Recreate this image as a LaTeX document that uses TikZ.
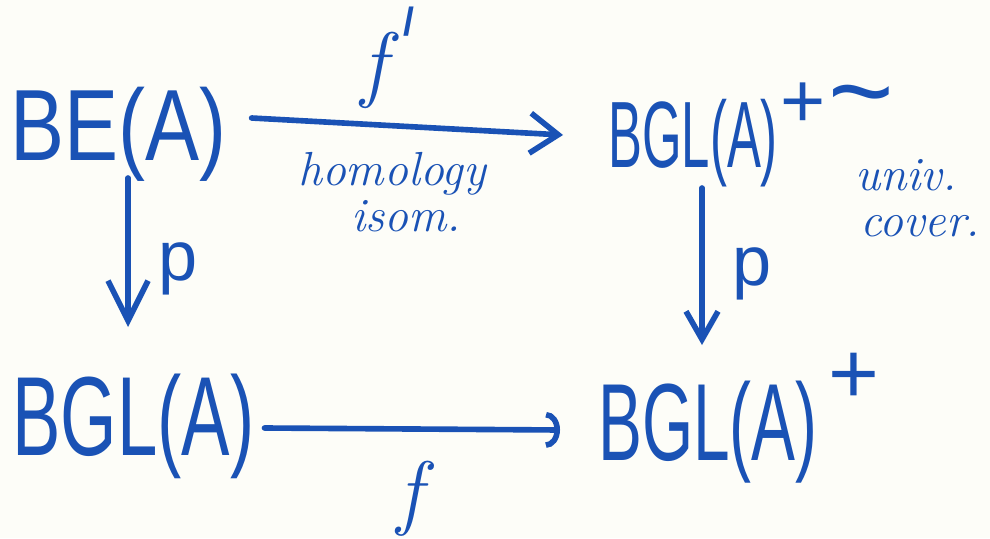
\documentclass[tikz,border=0pt]{standalone}
\usepackage{fontspec}
\newfontfamily\handfont{Liberation Sans}
\usepackage{tikz}
\usetikzlibrary{arrows.meta,calc}
\definecolor{ink}{HTML}{1A52B5}
\definecolor{paper}{HTML}{FDFDF8}
% hand-sized object text: size, horizontal squeeze, text
\newcommand{\hw}[3]{\fontsize{#1}{#1}\selectfont\scalebox{#2}[1]{#3}}
\newcommand{\hplus}[2]{\raisebox{#2}{\fontsize{#1}{#1}\selectfont +}}

\begin{document}
\begin{tikzpicture}[x=0.025cm, y=-0.025cm,
  line cap=round, line join=round,
  obj/.style={font=\handfont, text=ink, inner sep=0pt, anchor=base west},
  mlbl/.style={text=ink, inner sep=0pt, anchor=base},
  note/.style={font=\itshape\fontsize{34}{33}\selectfont, text=ink,
               align=center, inner sep=0pt},
  plbl/.style={font=\handfont\fontsize{50}{50}\selectfont, text=ink,
               inner sep=0pt, anchor=base west},
  cd/.style={draw=ink, line width=4pt}]

\fill[paper] (0,0) rectangle (990,538);
\useasboundingbox (0,0) rectangle (990,538);

% ================================================================ objects
\node[obj] (bea) at (10,160) {\hw{72}{0.80}{BE(A)}};
\node[obj] (bglpt) at (608,167) {\hw{67}{0.54}{BGL(A)}\hspace{2pt}%
  \hplus{55}{28pt}\hspace{2pt}%
  \raisebox{27pt}{\fontsize{80}{80}\selectfont\textasciitilde}};
\node[obj] (bgl) at (12,455) {\hw{80}{0.645}{BGL(A)}};
\node[obj] (bglp) at (598,460) {\hw{78}{0.60}{BGL(A)}\hspace{8pt}%
  \hplus{62}{40pt}};

% ================================================================ arrows
\draw[cd, -{Straight Barb[length=7mm,width=10mm]}]
  ($(bea.base east)+(25,-42)$) -- ($(bglpt.base west)+(-45,-32)$);
\draw[cd, -{Arc Barb[length=3.5mm,width=9mm]}]
  ($(bgl.base east)+(10,-27)$) -- ($(bglp.base west)+(-38,-30)$);
\draw[cd, -{Straight Barb[length=10mm,width=10mm]}]
  ($(bea.base west)+(118,18)$) -- ($(bgl.base west)+(116,-128)$);
\draw[cd, -{Straight Barb[length=7mm,width=8mm]}]
  ($(bglpt.base west)+(94,21)$) -- ($(bglp.base west)+(104,-115)$);

% ================================================================ labels
\node[mlbl, font=\itshape\fontsize{60}{60}\selectfont] (fp) at (388,92)
  {f\kern12pt\raisebox{40pt}{\handfont\upshape\bfseries\fontsize{28}{28}\selectfont /}};
\node[mlbl, font=\itshape\fontsize{59}{59}\selectfont] (fb) at (410,519) {f};
\node[note] (hom) at (392,192) {homology\\\hspace*{20pt}isom.};
\node[note] (univ) at (906,198) {univ.\\\hspace*{20pt}cover.};
\node[plbl] (pl) at (158,280) {p};
\node[plbl] (pr) at (732,285) {p};

\end{tikzpicture}
\end{document}
